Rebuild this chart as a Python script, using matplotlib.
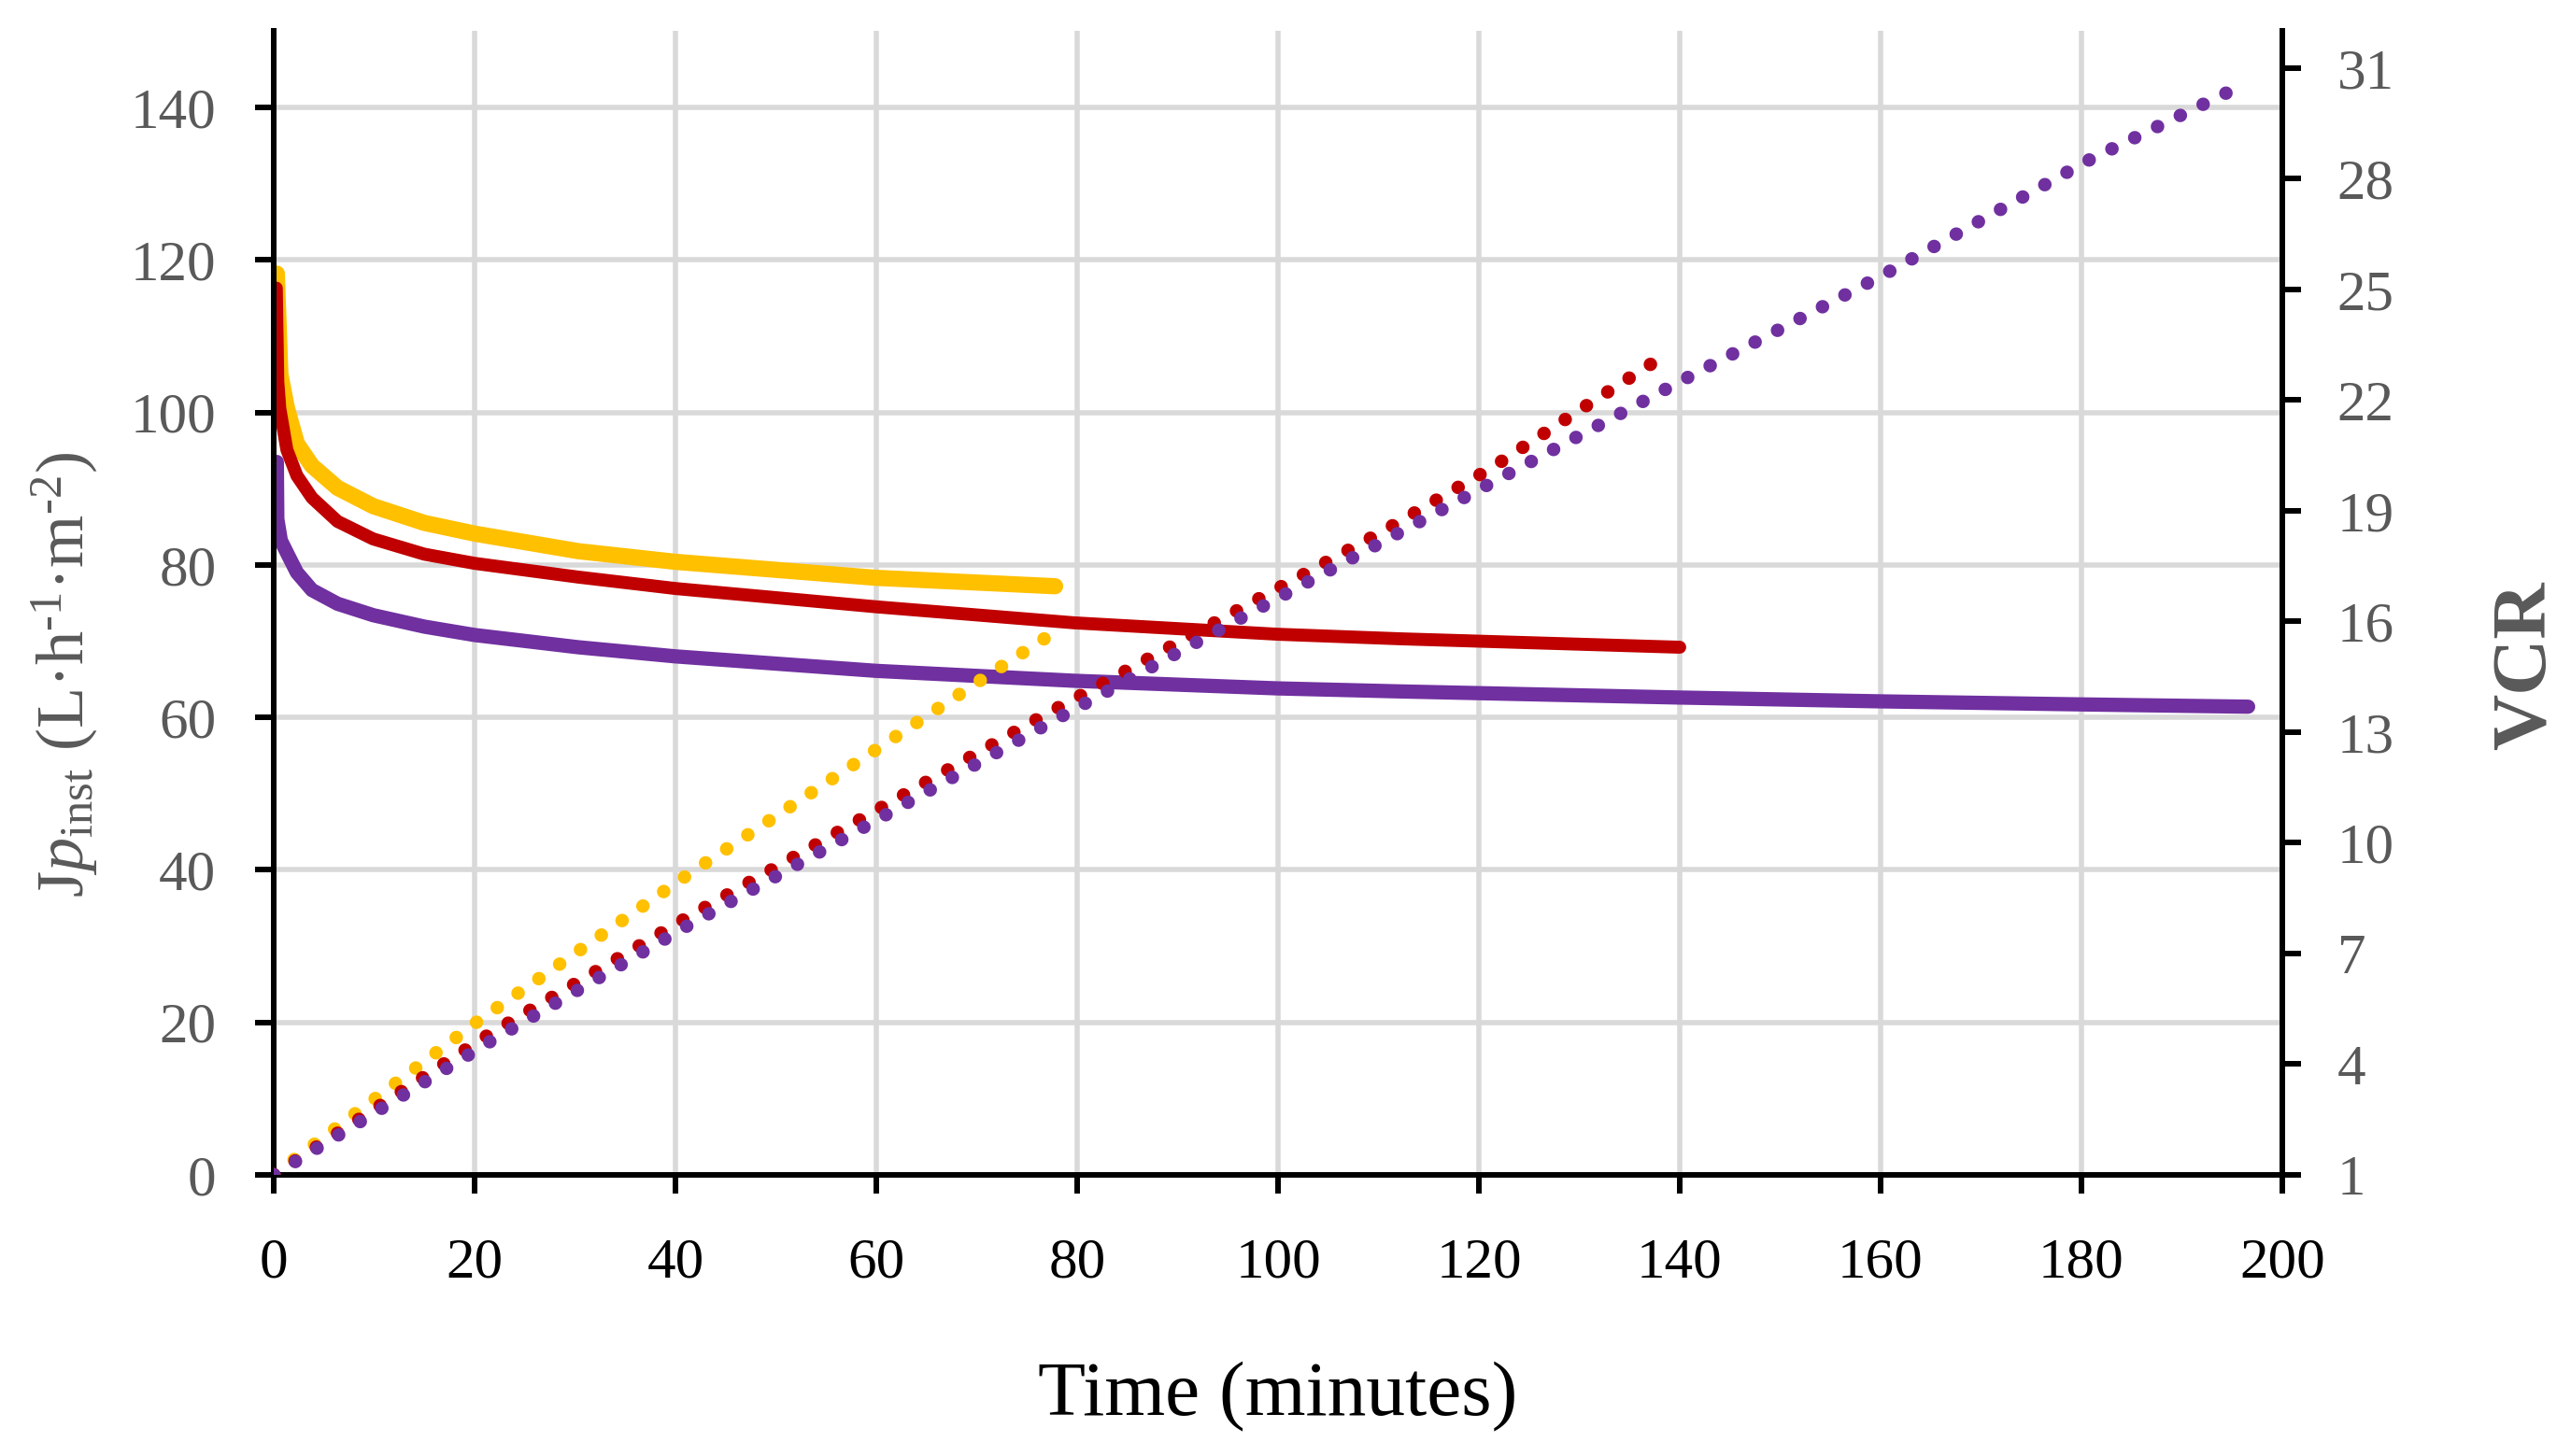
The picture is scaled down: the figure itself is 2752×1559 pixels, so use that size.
import matplotlib

matplotlib.use("Agg")
import matplotlib.pyplot as plt

plt.rcParams["font.family"] = ["Liberation Serif", "DejaVu Serif"]
plt.rcParams["mathtext.fontset"] = "custom"
plt.rcParams["mathtext.rm"] = "Liberation Serif"
plt.rcParams["mathtext.it"] = "Liberation Serif:italic"

# 瞬時通量(左軸)—— 時間(min), Jp_inst(L·h-1·m-2)
t_flux_yellow = [0.3, 0.65, 1.3, 2.3, 3.8, 6.35, 9.9, 15.0, 20.0, 30.3, 40.0, 60.0, 77.8]
flux_yellow = [118.2, 105.0, 100.6, 95.9, 93.0, 90.1, 87.7, 85.5, 84.1, 81.8, 80.4, 78.3, 77.2]

t_flux_red = [0.25, 0.4, 0.6, 1.3, 2.3, 3.8, 6.35, 9.9, 15.0, 20.0, 30.3, 40.0, 60.0, 79.7, 100.0, 112.3, 140.0]
flux_red = [116.3, 104.0, 100.5, 95.1, 91.7, 88.8, 85.7, 83.4, 81.4, 80.2, 78.4, 76.9, 74.5, 72.4, 70.9, 70.3, 69.2]

t_flux_purple = [0.3, 0.35, 0.7, 1.3, 2.3, 3.8, 6.35, 9.9, 15.0, 20.0, 30.3, 40.0, 60.0, 79.7,
                 100.0, 112.3, 140.0, 160.0, 180.0, 196.6]
flux_purple = [93.5, 86.0, 83.2, 81.6, 79.0, 76.7, 74.9, 73.4, 71.9, 70.8, 69.2, 68.0, 66.1, 64.8,
               63.8, 63.4, 62.6, 62.1, 61.7, 61.4]

# VCR(右軸)
t_vcr_yellow = [0, 20.4, 41.3, 71.0, 77.5]
vcr_yellow = [1, 5.18, 9.15, 14.52, 15.67]

t_vcr_red = [0, 21.4, 41.2, 76.6, 94.6, 110.3, 121.3, 129.8, 138.4]
vcr_red = [1, 4.80, 7.98, 13.44, 16.1, 18.42, 20.17, 21.69, 23.2]

t_vcr_purple = [0, 21.7, 41.5, 57.1, 77.1, 95.0, 119.7, 140.0, 160.3, 180.7, 196.5]
vcr_purple = [1, 4.64, 7.80, 10.17, 13.23, 15.9, 19.53, 22.5, 25.4, 28.5, 30.6]

x_ticks = list(range(0, 201, 20))
flux_ticks = list(range(0, 141, 20))
vcr_ticks = list(range(1, 32, 3))

YELLOW = "#FFC000"
RED = "#C00000"
PURPLE = "#7030A0"
GRAY_TXT = "#595959"
GRID = "#D9D9D9"

fig = plt.figure(figsize=(27.52, 15.59), dpi=100)
ax = fig.add_axes([0.1065, 0.1931, 0.7812, 0.7855])
ax2 = ax.twinx()

# 通量曲線
line_kw = dict(solid_capstyle="round", solid_joinstyle="round")
ax.plot(t_flux_yellow, flux_yellow, color=YELLOW, lw=12.5, **line_kw)
ax.plot(t_flux_red, flux_red, color=RED, lw=10, **line_kw)
ax.plot(t_flux_purple, flux_purple, color=PURPLE, lw=11, **line_kw)

# VCR 圓點虛線
dot_style = dict(lw=10.4, linestyle=(0, (0.01, 1.87)), dash_capstyle="round")
ax2.plot(t_vcr_yellow, vcr_yellow, color=YELLOW, **dot_style)
ax2.plot(t_vcr_red, vcr_red, color=RED, **dot_style)
ax2.plot(t_vcr_purple, vcr_purple, color=PURPLE, **dot_style)

ax.set_xlim(0, 200)
ax.set_ylim(0, 150)
ax2.set_ylim(1, 32)
ax.set_xticks(x_ticks)
ax.set_yticks(flux_ticks)
ax2.set_yticks(vcr_ticks)

ax.set_axisbelow(True)
ax.grid(True, color=GRID, lw=4)

for a in (ax, ax2):
    a.spines["top"].set_visible(False)
    for s in a.spines.values():
        s.set_linewidth(4.3)
        s.set_color("black")
ax.spines["right"].set_visible(False)
ax2.spines["left"].set_visible(False)
ax2.spines["bottom"].set_visible(False)

ax.tick_params(axis="x", direction="out", length=14.4, width=4.3, pad=34, labelsize=44, labelcolor="black")
ax.tick_params(axis="y", direction="out", length=14.4, width=4.3, pad=30, labelsize=44, labelcolor=GRAY_TXT)
ax2.tick_params(axis="y", direction="out", length=14.4, width=4.3, pad=28, labelsize=44, labelcolor=GRAY_TXT)

ax.set_xlabel("Time (minutes)", fontsize=60, color="black")
ax.xaxis.set_label_coords(0.5, -0.194)
ax.xaxis.label.set_va("center")

ax.set_ylabel("$\\mathrm{J}\\mathit{p}_{\\mathrm{inst}}$ (L·h$^{\\mathrm{\u20101}}$·m$^{\\mathrm{\u20102}}$)",
              fontsize=52, color=GRAY_TXT)
ax.yaxis.set_label_coords(-0.104, 0.437)
ax.yaxis.label.set_va("center")

ax2.set_ylabel("VCR", fontsize=60, fontweight="bold", color=GRAY_TXT)
ax2.yaxis.set_label_coords(1.122, 0.445)
ax2.yaxis.label.set_va("center")

fig.savefig("out.png", dpi=100)
